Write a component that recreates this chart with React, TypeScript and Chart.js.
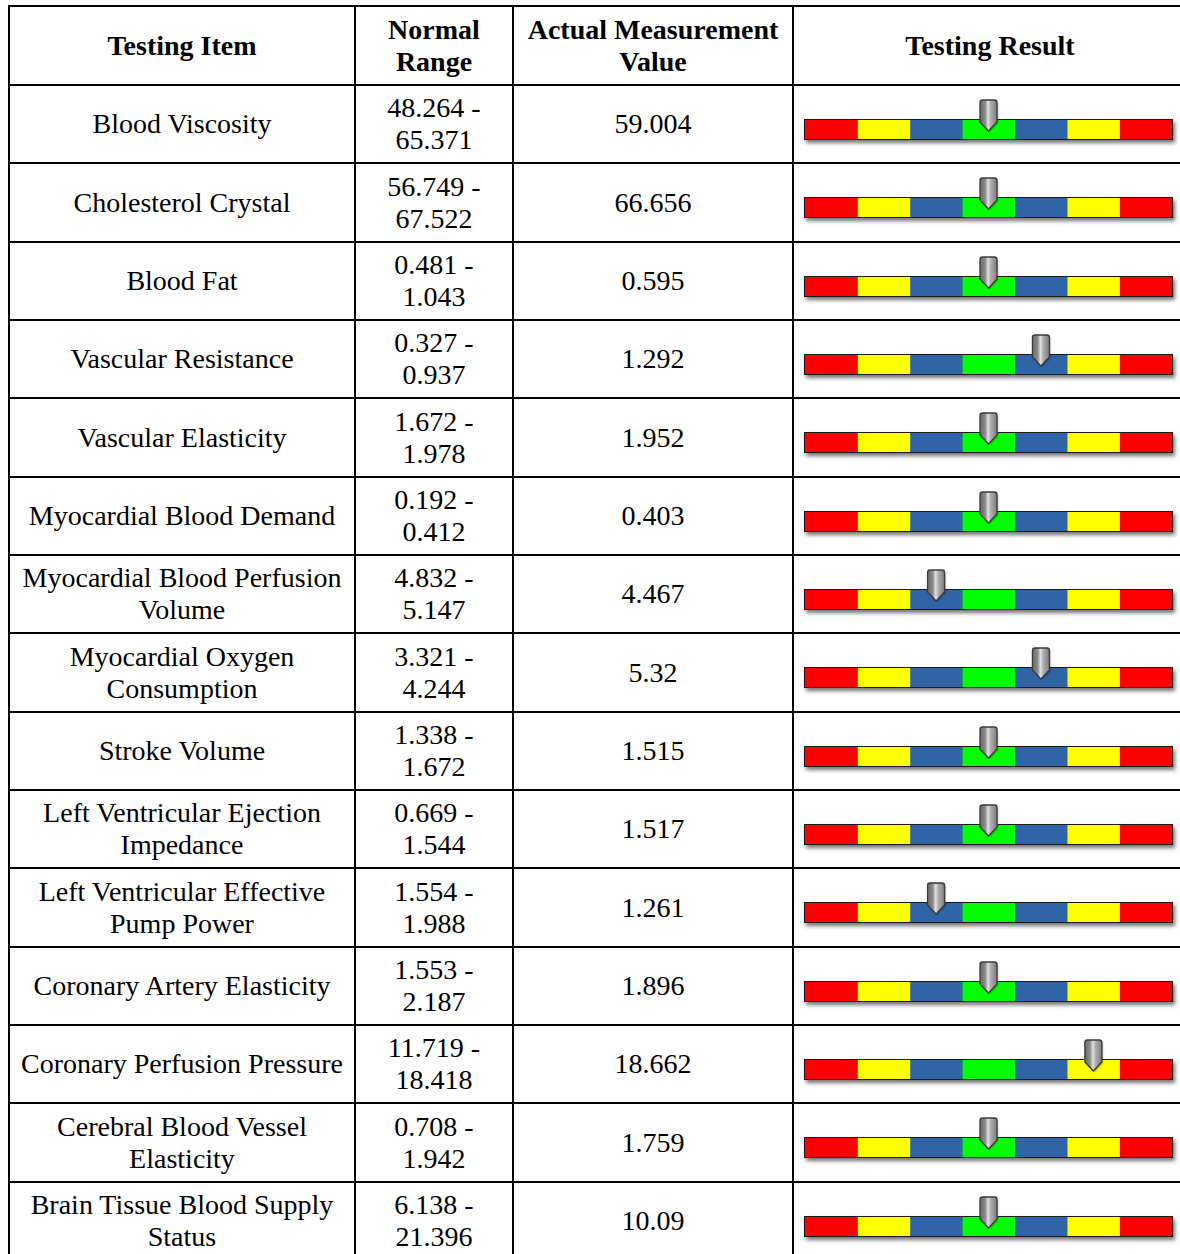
import React, { useEffect, useRef } from "react";
import { Chart, registerables } from "chart.js";

Chart.register(...registerables);

// ---------- data ----------
const headers = ["Testing Item", "Normal Range", "Actual Measurement Value", "Testing Result"];

const items = [
  "Blood Viscosity",
  "Cholesterol Crystal",
  "Blood Fat",
  "Vascular Resistance",
  "Vascular Elasticity",
  "Myocardial Blood Demand",
  "Myocardial Blood Perfusion Volume",
  "Myocardial Oxygen Consumption",
  "Stroke Volume",
  "Left Ventricular Ejection Impedance",
  "Left Ventricular Effective Pump Power",
  "Coronary Artery Elasticity",
  "Coronary Perfusion Pressure",
  "Cerebral Blood Vessel Elasticity",
  "Brain Tissue Blood Supply Status",
];

const rangeLow = ["48.264", "56.749", "0.481", "0.327", "1.672", "0.192", "4.832", "3.321", "1.338", "0.669", "1.554", "1.553", "11.719", "0.708", "6.138"];
const rangeHigh = ["65.371", "67.522", "1.043", "0.937", "1.978", "0.412", "5.147", "4.244", "1.672", "1.544", "1.988", "2.187", "18.418", "1.942", "21.396"];
const measured = ["59.004", "66.656", "0.595", "1.292", "1.952", "0.403", "4.467", "5.32", "1.515", "1.517", "1.261", "1.896", "18.662", "1.759", "10.09"];

// result level on the 7-segment gauge (0 = far left red ... 6 = far right red)
const levels = [3, 3, 3, 4, 3, 3, 2, 4, 3, 3, 2, 3, 5, 3, 3];

const segmentNames = ["Very Low", "Low", "Slightly Low", "Normal", "Slightly High", "High", "Very High"];
const segmentSpans = [1, 1, 1, 1, 1, 1, 1];
const segmentColors = ["#ff0000", "#ffff00", "#2f64a6", "#00ff00", "#2f64a6", "#ffff00", "#ff0000"];

// ---------- gauge plugin ----------
const gaugePlugin = {
  id: "gauge",
  beforeDatasetsDraw(chart: any) {
    const ctx = chart.ctx;
    const xs = chart.scales.x;
    const el = chart.getDatasetMeta(0).data[0];
    if (!el) return;
    const { y, height } = el.getProps(["y", "height"], true);
    const top = y - height / 2;
    const left = xs.getPixelForValue(0);
    const right = xs.getPixelForValue(segmentSpans.length);
    ctx.save();
    ctx.shadowColor = "rgba(0,0,0,0.55)";
    ctx.shadowBlur = 4;
    ctx.shadowOffsetX = 2;
    ctx.shadowOffsetY = 3;
    ctx.fillStyle = "#222";
    ctx.fillRect(left - 1, top - 1, right - left + 2, height + 2);
    ctx.restore();
  },
  afterDatasetsDraw(chart: any, _args: any, opts: any) {
    const ctx = chart.ctx;
    const xs = chart.scales.x;
    const el = chart.getDatasetMeta(0).data[0];
    if (!el) return;
    const { y, height } = el.getProps(["y", "height"], true);
    const top = y - height / 2;
    const left = xs.getPixelForValue(0);
    const right = xs.getPixelForValue(segmentSpans.length);
    ctx.save();
    ctx.strokeStyle = "#1a1a1a";
    ctx.lineWidth = 1;
    ctx.strokeRect(left - 0.5, top - 0.5, right - left + 1, height + 1);
    ctx.restore();

    // pointer
    const cx = xs.getPixelForValue(opts.level + 0.5);
    const w = 8.5;
    const t = top - 20;
    const b = top + 2;
    const tip = top + 11;
    ctx.save();
    ctx.beginPath();
    ctx.moveTo(cx - w, t + 2.5);
    ctx.quadraticCurveTo(cx - w, t, cx - w + 2.5, t);
    ctx.lineTo(cx + w - 2.5, t);
    ctx.quadraticCurveTo(cx + w, t, cx + w, t + 2.5);
    ctx.lineTo(cx + w, b);
    ctx.lineTo(cx, tip);
    ctx.lineTo(cx - w, b);
    ctx.closePath();
    const g = ctx.createLinearGradient(cx - w, 0, cx + w, 0);
    g.addColorStop(0, "#6a6a6a");
    g.addColorStop(0.3, "#8a8a8a");
    g.addColorStop(0.48, "#e2e2e2");
    g.addColorStop(0.62, "#b0b0b0");
    g.addColorStop(1, "#7c7c7c");
    ctx.shadowColor = "rgba(0,0,0,0.35)";
    ctx.shadowBlur = 2;
    ctx.shadowOffsetX = 1;
    ctx.shadowOffsetY = 1;
    ctx.fillStyle = g;
    ctx.fill();
    ctx.shadowColor = "transparent";
    ctx.strokeStyle = "#3c3c3c";
    ctx.lineWidth = 1.3;
    ctx.stroke();
    ctx.restore();
  },
};

const GAUGE_W = 392;
const GAUGE_H = 76;

function Gauge({ label, level }: { label: string; level: number }) {
  const ref = useRef<HTMLCanvasElement>(null);
  useEffect(() => {
    const chart = new Chart(ref.current as HTMLCanvasElement, {
      type: "bar",
      data: {
        labels: [label],
        datasets: segmentSpans.map((v, i) => ({
          label: segmentNames[i],
          data: [v],
          backgroundColor: segmentColors[i],
          borderWidth: 0,
          barThickness: 19,
        })),
      },
      options: {
        indexAxis: "y",
        responsive: false,
        animation: false,
        events: [],
        layout: { padding: { left: 11, right: 14, top: 24, bottom: 13 } },
        scales: {
          x: { stacked: true, display: false, min: 0, max: segmentSpans.length },
          y: { stacked: true, display: false },
        },
        plugins: {
          legend: { display: false },
          tooltip: { enabled: false },
          gauge: { level },
        } as any,
      },
      plugins: [gaugePlugin as any],
    });
    return () => chart.destroy();
  }, [label, level]);
  return <canvas ref={ref} width={GAUGE_W} height={GAUGE_H} style={{ display: "block" }} />;
}

const FONT = "'Liberation Serif', 'Times New Roman', Times, serif";

const cellStyle: React.CSSProperties = {
  background: "#fff",
  display: "flex",
  alignItems: "center",
  justifyContent: "center",
  textAlign: "center",
  padding: "0 5px",
  fontFamily: FONT,
  fontSize: 28,
  lineHeight: "32px",
  color: "#000",
  overflow: "hidden",
};

export default function App() {
  return (
    <div style={{ position: "absolute", left: 0, top: 0, width: 1180, height: 1254, overflow: "hidden", background: "#fff" }}>
      <div
        style={{
          position: "absolute",
          left: 8,
          top: 5,
          display: "grid",
          gridTemplateColumns: `344px 156px 278px ${GAUGE_W}px`,
          gridTemplateRows: `77px repeat(${items.length}, 76.357px)`,
          gap: 2,
          padding: 2,
          background: "#000",
        }}
      >
        {headers.map((h) => (
          <div key={h} style={{ ...cellStyle, fontWeight: "bold" }}>
            {h}
          </div>
        ))}
        {items.map((item, i) => (
          <React.Fragment key={item}>
            <div style={cellStyle}>{item}</div>
            <div style={cellStyle}>{`${rangeLow[i]} - ${rangeHigh[i]}`}</div>
            <div style={cellStyle}>{measured[i]}</div>
            <div style={{ background: "#fff", overflow: "hidden" }}>
              <Gauge label={item} level={levels[i]} />
            </div>
          </React.Fragment>
        ))}
      </div>
    </div>
  );
}
